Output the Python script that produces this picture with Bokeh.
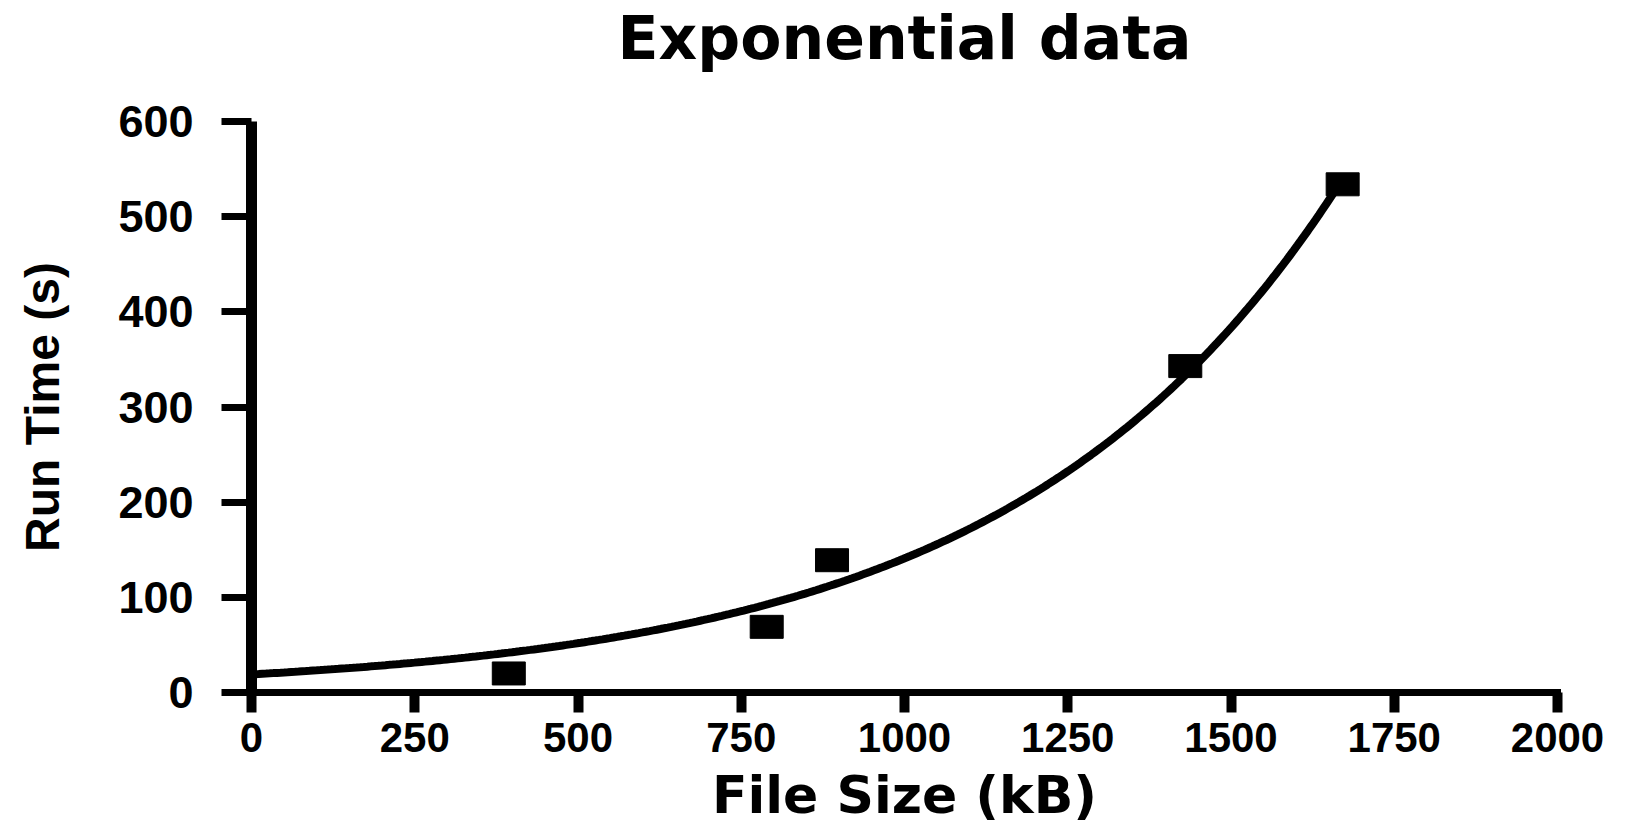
import numpy as np
from bokeh.plotting import figure
from bokeh.models import Range1d, FixedTicker, ColumnDataSource, LinearAxis
from bokeh.embed import file_html
from bokeh.resources import INLINE

# ---- data ----
file_size_kb = [394, 789, 889, 1430, 1671]
run_time_s = [20, 69, 139, 343, 534]
x_ticks = [0, 250, 500, 750, 1000, 1250, 1500, 1750, 2000]
y_ticks = [0, 100, 200, 300, 400, 500, 600]

title_text = "Exponential data"
x_label = "File Size (kB)"
y_label = "Run Time (s)"

# ---- exponential fit (least squares on y = A*exp(k*x)) ----
xs = np.array(file_size_kb, dtype=float)
ys = np.array(run_time_s, dtype=float)
best = None
for k in np.linspace(0.0005, 0.005, 4501):
    e = np.exp(k * xs)
    A = np.sum(ys * e) / np.sum(e * e)
    sse = np.sum((ys - A * e) ** 2)
    if best is None or sse < best[0]:
        best = (sse, A, k)
_, A_fit, k_fit = best
curve_x = np.linspace(0, xs.max() - 14, 300)
curve_y = A_fit * np.exp(k_fit * curve_x)

pts = ColumnDataSource(dict(x=file_size_kb, y=run_time_s))
fit = ColumnDataSource(dict(x=curve_x, y=curve_y))

p = figure(
    width=1640, height=827,
    x_range=Range1d(0, 2000), y_range=Range1d(0, 600),
    output_backend="svg", toolbar_location=None,
    min_border_left=251, min_border_right=83,
    min_border_top=120, min_border_bottom=134,
    background_fill_color="white", border_fill_color="white",
)
p.outline_line_color = None
p.xgrid.visible = False
p.ygrid.visible = False

xa = p.below[0]
ya = p.left[0]

# blank spacer panel between the frame and the title (white tick, no label text)
spacer = LinearAxis(
    ticker=FixedTicker(ticks=[x_ticks[-1]]),
    axis_line_color=None,
    major_tick_line_color="white", major_tick_line_width=1,
    minor_tick_line_color=None,
    major_tick_out=45, major_tick_in=0, minor_tick_out=0, minor_tick_in=0,
    major_label_standoff=0, major_label_text_font_size="0px",
    major_label_text_color=None, axis_label=None,
)
p.add_layout(spacer, "above")

# title
p.title.text = title_text
p.title.align = "center"
p.title.vertical_align = "top"
p.title.text_font = "DejaVu Sans"
p.title.text_font_style = "bold"
p.title.text_font_size = "60px"
p.title.text_color = "black"
p.title.standoff = 4

# x axis
xa.ticker = FixedTicker(ticks=x_ticks)
xa.axis_label = x_label
xa.axis_label_text_font = "DejaVu Sans"
xa.axis_label_text_font_style = "bold"
xa.axis_label_text_font_size = "52px"
xa.axis_label_text_color = "black"
xa.axis_label_standoff = 10
xa.major_label_text_font = "Liberation Sans"
xa.major_label_text_font_style = "bold"
xa.major_label_text_font_size = "42px"
xa.major_label_text_color = "black"
xa.major_label_standoff = 10
xa.axis_line_width = 7
xa.axis_line_color = "black"
xa.axis_line_cap = "square"
xa.major_tick_line_width = 10
xa.major_tick_line_color = "black"
xa.major_tick_out = 20
xa.major_tick_in = 0
xa.minor_tick_line_color = None

# y axis
ya.ticker = FixedTicker(ticks=y_ticks)
ya.axis_label = y_label
ya.axis_label_text_font = "Liberation Sans"
ya.axis_label_text_font_style = "bold"
ya.axis_label_text_font_size = "48px"
ya.axis_label_text_color = "black"
ya.axis_label_standoff = 46
ya.major_label_text_font = "Liberation Sans"
ya.major_label_text_font_style = "bold"
ya.major_label_text_font_size = "45px"
ya.major_label_text_color = "black"
ya.major_label_standoff = 28
ya.axis_line_width = 11
ya.axis_line_color = "black"
ya.major_tick_line_width = 7
ya.major_tick_line_color = "black"
ya.major_tick_out = 30
ya.major_tick_in = 0
ya.minor_tick_line_color = None

# fitted curve and data markers
p.line("x", "y", source=fit, line_width=8, line_color="black")
p.rect("x", "y", source=pts, width=33, height=23,
       width_units="screen", height_units="screen",
       fill_color="black", line_color="black")

open("out.html", "w").write(file_html(p, INLINE))
